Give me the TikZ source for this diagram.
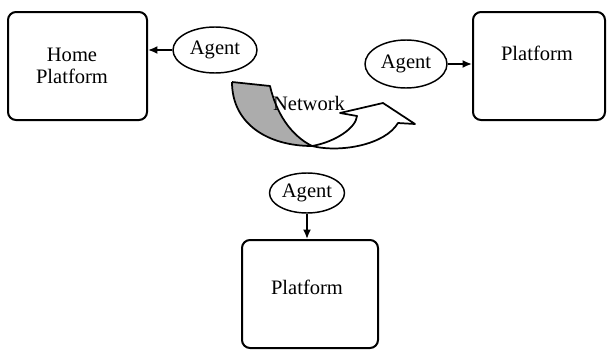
\documentclass[tikz,border=0pt]{standalone}
\usepackage{fontspec}
\setmainfont{Liberation Serif}
\usetikzlibrary{arrows.meta,shapes.geometric}
\begin{document}
\begin{tikzpicture}[x=0.75pt,y=-0.75pt,
  box/.style={draw,line width=1.5pt,rounded corners=6pt,inner sep=0pt},
  agent/.style={draw,ellipse,line width=1.1pt,inner sep=0pt,font=\fontsize{15.4}{18}\selectfont},
  lbl/.style={font=\fontsize{15.4}{18}\selectfont,align=center,inner sep=0pt},
  conn/.style={line width=1.5pt,-{Latex[length=7pt,width=6pt]}},
  band/.style={draw,line width=1.3pt,line join=round}]
\useasboundingbox (0,0) rectangle (608,350);
% platforms
\node[box,minimum width=104.25pt,minimum height=81pt] (home) at (77.5,66) {};
\node[lbl] (hometxt) at (72,66) {Home\\[-2pt]Platform};
\node[box,minimum width=99pt,minimum height=81pt] (right) at (539,66) {};
\node[lbl] (righttxt) at (537,53) {Platform};
\node[box,minimum width=102pt,minimum height=81pt] (bottom) at (310,294) {};
\node[lbl] (bottomtxt) at (307,287) {Platform};
% agents
\node[agent,minimum width=63pt,minimum height=34.5pt] (a1) at (215,50) {Agent};
\node[agent,minimum width=61.5pt,minimum height=36pt] (a2) at (406,64) {Agent};
\node[agent,minimum width=56.25pt,minimum height=30pt] (a3) at (307,193) {Agent};
% connectors
\draw[conn] (a1.west) -- (a1.west -| home.east);
\draw[conn] (a2.east) -- (a2.east -| right.west);
\draw[conn] (a3.south) -- (a3.south |- bottom.north);
% network curved arrow
\coordinate (gtl) at (232,82);
\coordinate (gtr) at (270,86);
\coordinate (cross) at (312,146);
\coordinate (b1) at (398,123);
\coordinate (tip1) at (415,124);
\coordinate (apex) at (383,103);
\coordinate (tip2) at (340,113);
\coordinate (b2) at (357,116);
\fill[gray!65] (gtl) -- (gtr) .. controls (276,112) and (290,135) .. (cross)
  .. controls (268,146) and (232,124) .. (gtl) -- cycle;
\draw[band] (gtl) -- (gtr) .. controls (276,112) and (290,135) .. (cross)
  .. controls (268,146) and (232,124) .. (gtl);
\draw[band] (cross) .. controls (340,153) and (385,145) .. (b1) -- (tip1) -- (apex)
  -- (tip2) -- (b2) .. controls (356,128) and (335,142) .. (cross);
\node[lbl] (net) at (309,103) {Network};
\end{tikzpicture}
\end{document}
